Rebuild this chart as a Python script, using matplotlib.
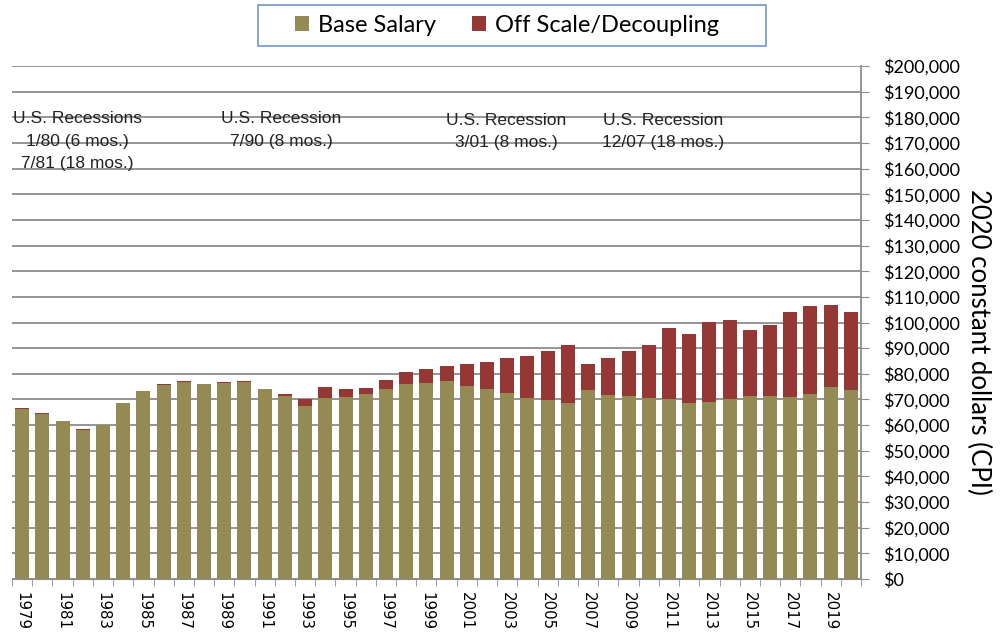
import numpy as np
import matplotlib.pyplot as plt
from matplotlib.patches import Rectangle
from matplotlib.ticker import FuncFormatter, MultipleLocator

years = list(range(1979, 2021))
# totals (base + off scale) and base salary, 2020 constant dollars
base_salary = [66400, 64500, 61700, 58100, 60000, 68700, 73400, 75600, 76900, 76000,
               76300, 76800, 74100, 71500, 67600, 70700, 70800, 72300, 74000, 76000,
               76600, 77200, 75200, 74100, 72500, 70600, 69800, 68600, 73700, 71700,
               71300, 70600, 70200, 68600, 69000, 70200, 71300, 71300, 70900, 72100,
               74900, 73700]
total_salary = [66800, 64600, 61700, 58400, 60000, 68700, 73400, 76000, 77300, 76000,
                76700, 77300, 74100, 72100, 70100, 74900, 74000, 74600, 77600, 80700,
                82000, 83100, 83800, 84600, 86200, 86900, 88900, 91200, 83800, 86200,
                88900, 91200, 97900, 95500, 100200, 101000, 97100, 99000, 104100, 106400,
                106800, 104100]
off_scale = [t - b for t, b in zip(total_salary, base_salary)]

recession_notes = ["U.S. Recessions\n1/80 (6 mos.)\n7/81 (18 mos.)",
                   "U.S. Recession\n7/90 (8 mos.)",
                   "U.S. Recession\n3/01 (8 mos.)",
                   "U.S. Recession\n12/07 (18 mos.)"]
note_years = [1981.75, 1991.82, 2002.96, 2010.73]
note_tops = [182300, 182300, 181600, 181600]

olive = '#948A54'
red = '#953735'
gridc = '#8c8c8c'

fig = plt.figure(figsize=(10, 6.33), dpi=100)
ax = fig.add_axes([0.012, 0.0853, 0.849, 0.8104])

x = np.arange(len(years))
ax.bar(x, base_salary, width=0.69, color=olive, label='Base Salary', zorder=3)
ax.bar(x, off_scale, width=0.69, bottom=base_salary, color=red,
       label='Off Scale/Decoupling', zorder=3)

ax.set_xlim(-0.5, len(years) - 0.5)
ax.set_ylim(0, 200000)
ax.yaxis.set_major_locator(MultipleLocator(10000))
ax.yaxis.tick_right()
ax.yaxis.set_major_formatter(FuncFormatter(lambda v, p: '${:,.0f}'.format(v)))
ax.grid(axis='y', color=gridc, lw=1.3, zorder=0)
ax.tick_params(axis='y', direction='out', length=6, color=gridc, pad=10,
               labelsize=13)
for lab in ax.get_yticklabels():
    lab.set_fontfamily('Lato')

ax.set_xticks(x[::2])
ax.set_xticklabels([str(y) for y in years[::2]], rotation=-90, fontsize=10.8,
                   family='DejaVu Sans')
ax.set_xticks(np.arange(-0.5, len(years)), minor=True)
ax.tick_params(axis='x', which='major', length=0, pad=9)
ax.tick_params(axis='x', which='minor', length=5, color=gridc)

for s in ['top', 'left']:
    ax.spines[s].set_visible(False)
ax.spines['right'].set_color(gridc)
ax.spines['bottom'].set_color(gridc)
ax.spines['right'].set_linewidth(1.3)

fig.text(0.979, 1 - 342 / 633, '2020 constant dollars (CPI)', rotation=-90,
         ha='center', va='center', fontsize=18.5, family='Lato')

for note, ny, nt in zip(recession_notes, note_years, note_tops):
    ax.text(ny - years[0], nt, note, ha='center', va='top', fontsize=12.5,
            family='Liberation Sans', linespacing=1.6, color='#222222', zorder=4)

leg = fig.legend(loc='center', bbox_to_anchor=(0.507, 1 - 25.5 / 633), ncol=2,
                 frameon=False, handlelength=0.6, handleheight=0.6,
                 handletextpad=0.35, columnspacing=1.55,
                 prop={'family': 'Lato', 'size': 17})
fig.patches.append(Rectangle((0.258, 1 - 46 / 633), 0.508, 41 / 633,
                             transform=fig.transFigure, fill=False,
                             edgecolor='#6f97c9', lw=1.2))

fig.savefig('out.png', dpi=100)
